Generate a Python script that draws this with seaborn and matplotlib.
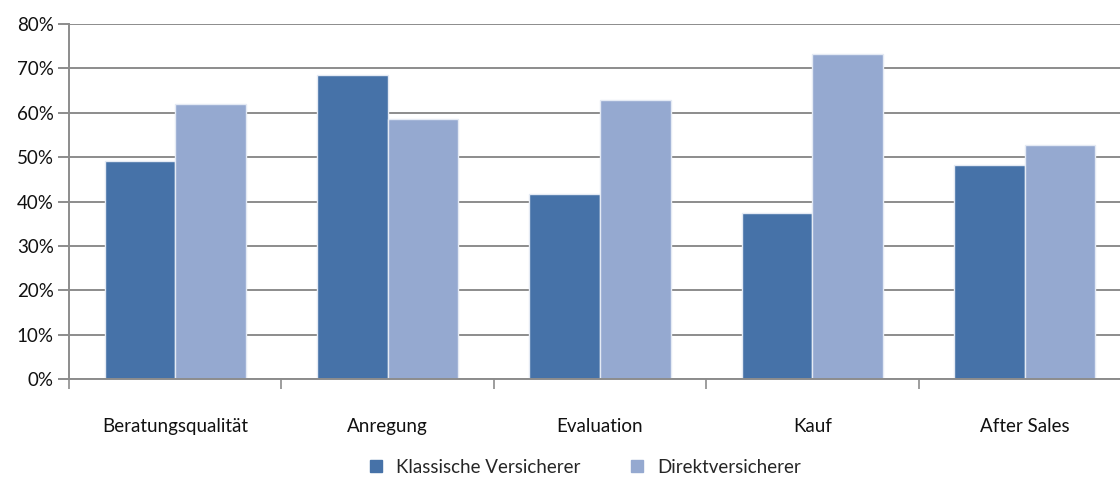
import pandas as pd
import seaborn as sns
import matplotlib.pyplot as plt
from matplotlib.ticker import PercentFormatter, FixedLocator
from matplotlib.lines import Line2D

categories = ['Beratungsqualität', 'Anregung', 'Evaluation', 'Kauf', 'After Sales']
klassische = [49.2, 68.5, 41.7, 37.4, 48.3]
direkt = [61.9, 58.6, 62.9, 73.3, 52.7]
series = ['Klassische Versicherer', 'Direktversicherer']
colors = ['#4672a8', '#95a9d0']

df = pd.DataFrame({
    'Phase': categories * 2,
    'Wert': klassische + direkt,
    'Gruppe': [series[0]] * len(categories) + [series[1]] * len(categories),
})

sns.set_theme(style='white')
plt.rcParams['font.family'] = ['Lato', 'DejaVu Sans']

fig = plt.figure(figsize=(11.2, 4.8), dpi=100)
ax = fig.add_axes([0.0616, 0.2098, 0.9482, 0.7402])

sns.barplot(data=df, x='Phase', y='Wert', hue='Gruppe', palette=colors, saturation=1,
            width=0.665, edgecolor='#e4eaf4', linewidth=1.0, ax=ax, legend=False)

grid_c = '#8c8c8c'
ax.set_ylim(0, 80)
ax.set_xlim(-0.5, len(categories) - 0.5)
ax.set_yticks(range(0, 81, 10))
ax.yaxis.set_major_formatter(PercentFormatter(decimals=0))
ax.grid(axis='y', color=grid_c, linewidth=1.4)
ax.set_axisbelow(True)
for s in ['top', 'right']:
    ax.spines[s].set_visible(False)
for s in ['left', 'bottom']:
    ax.spines[s].set_color(grid_c)
    ax.spines[s].set_linewidth(1.4)

ax.xaxis.set_minor_locator(FixedLocator([i - 0.5 for i in range(len(categories) + 1)]))
ax.tick_params(axis='x', which='major', length=0, pad=28, labelsize=13.5, colors='#111111')
ax.tick_params(axis='x', which='minor', bottom=True, length=7, width=1.2, color=grid_c)
ax.tick_params(axis='y', left=True, length=8, width=1.4, color=grid_c, labelsize=13.5,
               labelcolor='#111111', pad=3)
ax.set_xlabel('')
ax.set_ylabel('')

handles = [Line2D([], [], marker='s', linestyle='', markersize=9, color=c) for c in colors]
fig.legend(handles, series, loc='center', bbox_to_anchor=(0.517, 0.026), ncol=2,
           frameon=False, fontsize=13.5, handletextpad=0.1, columnspacing=2.0)

fig.savefig('out.png', dpi=100)
